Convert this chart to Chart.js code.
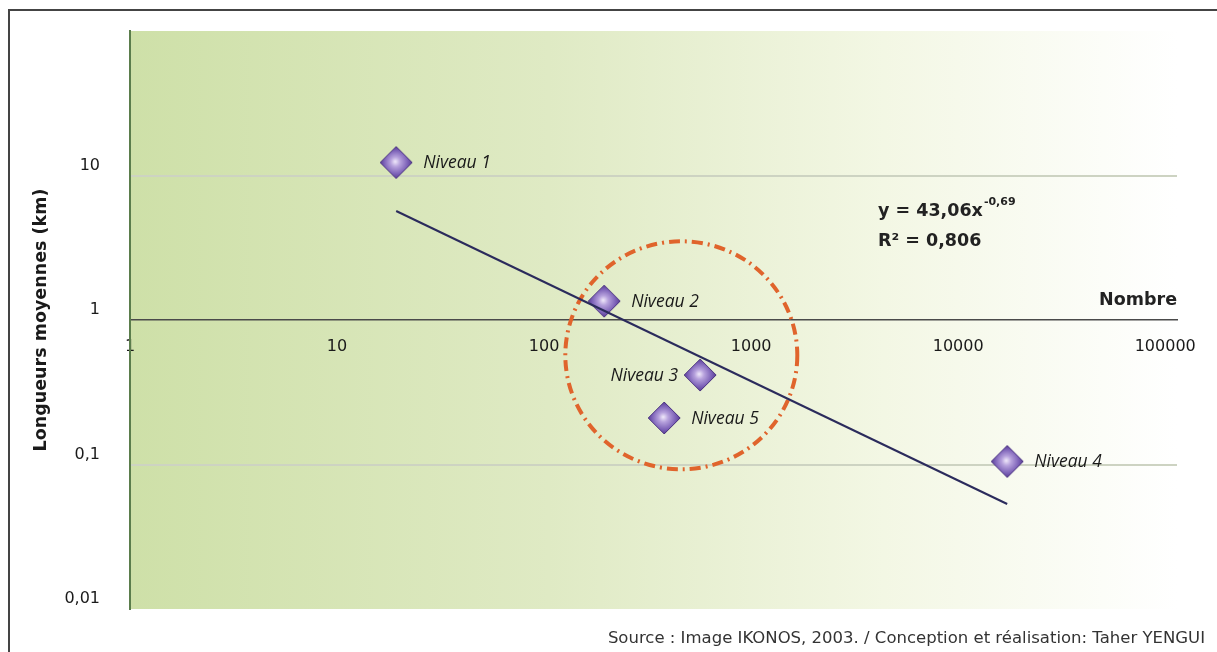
<!DOCTYPE html>
<html>
<head>
<meta charset="utf-8">
<script src="https://cdn.jsdelivr.net/npm/chart.js@4.4.0/dist/chart.umd.min.js"></script>
<style>
  html, body { margin: 0; padding: 0; background: #fff; }
  #wrap { width: 1217px; height: 652px; }
</style>
</head>
<body>
<div id="wrap"><canvas id="myChart"></canvas></div>
<script>
// niveaux : nombre de segments / longueur moyenne (km)
const niveaux = ['Niveau 1', 'Niveau 2', 'Niveau 3', 'Niveau 4', 'Niveau 5'];
const nombre = [19.3, 195, 567, 17250, 380];
const longueurs = [12.3, 1.35, 0.416, 0.105, 0.21];

// droite d'ajustement (lue aux deux bouts)
const trendX = [19.3, 17250];
const trendY = [5.68, 0.0533];

const xTicks = [1, 10, 100, 1000, 10000, 100000];
const yTicks = [0.01, 0.1, 1, 10, 100];
const yTickLabels = ['0,01', '0,1', '1', '10', ''];

const equation = ['y = 43,06x', '-0,69', 'R² = 0,806'];
const eqAt = [4100, 5.6];          // ancrage de l'équation
const circleCenter = [460, 0.57];  // cercle en tirets

const SANS = "'DejaVu Sans', Verdana, sans-serif";
const ITAL = "'Open Sans', sans-serif";
Chart.defaults.font.family = SANS;

function makeDiamond(r) {
  const c = document.createElement('canvas');
  const s = 2 * r + 4;
  c.width = s; c.height = s;
  const g = c.getContext('2d');
  const m = s / 2;
  const grad = g.createRadialGradient(m - 1, m - 1, 0, m, m, r);
  grad.addColorStop(0, '#f1eafb');
  grad.addColorStop(0.3, '#b7a2dd');
  grad.addColorStop(0.75, '#7a5fb6');
  grad.addColorStop(1, '#5a3f93');
  g.fillStyle = grad;
  g.beginPath();
  g.moveTo(m - r, m); g.lineTo(m, m - r); g.lineTo(m + r, m); g.lineTo(m, m + r);
  g.closePath();
  g.fill();
  g.strokeStyle = '#4b3380';
  g.lineWidth = 1;
  g.stroke();
  return c;
}

const decor = {
  id: 'decor',
  beforeDraw(chart) {
    const {ctx, chartArea: a} = chart;
    ctx.save();
    const g = ctx.createLinearGradient(a.left, 0, a.right, 0);
    g.addColorStop(0, '#cee0a8');
    g.addColorStop(0.4, '#dfeac4');
    g.addColorStop(0.72, '#f3f7e4');
    g.addColorStop(1, '#ffffff');
    ctx.fillStyle = g;
    ctx.fillRect(a.left, a.top, a.right - a.left, a.bottom - a.top);
    // cadre
    ctx.strokeStyle = '#444';
    ctx.lineWidth = 2;
    ctx.beginPath();
    ctx.moveTo(9, 652); ctx.lineTo(9, 10); ctx.lineTo(1217, 10);
    ctx.stroke();
    ctx.restore();
  },
  beforeDatasetsDraw(chart) {
    const {ctx, scales} = chart;
    const cx = scales.x.getPixelForValue(circleCenter[0]);
    const cy = scales.y.getPixelForValue(circleCenter[1]);
    ctx.save();
    ctx.strokeStyle = '#e0642c';
    ctx.lineWidth = 4;
    ctx.setLineDash([11, 5, 2, 5]);
    ctx.beginPath();
    ctx.ellipse(cx, cy, 116, 114, 0, 0, Math.PI * 2);
    ctx.stroke();
    ctx.restore();
  },
  afterDatasetsDraw(chart) {
    const {ctx, scales, chartArea: a} = chart;
    ctx.save();
    // étiquettes des points
    const pts = chart.getDatasetMeta(1).data;
    ctx.font = 'italic 17.5px ' + ITAL;
    ctx.fillStyle = '#1a1a1a';
    ctx.textBaseline = 'middle';
    pts.forEach((p, i) => {
      if (i === 2) {
        ctx.textAlign = 'right';
        ctx.fillText(niveaux[i], p.x - 22, p.y + 1);
      } else {
        ctx.textAlign = 'left';
        ctx.fillText(niveaux[i], p.x + 27, p.y + 1);
      }
    });
    // équation
    const ex = scales.x.getPixelForValue(eqAt[0]);
    const ey = scales.y.getPixelForValue(eqAt[1]);
    ctx.textAlign = 'left';
    ctx.textBaseline = 'alphabetic';
    ctx.fillStyle = '#222';
    ctx.font = 'bold 17.5px ' + SANS;
    ctx.fillText(equation[0], ex, ey + 4);
    const w = ctx.measureText(equation[0]).width;
    ctx.font = 'bold 11px ' + SANS;
    ctx.fillText(equation[1], ex + w + 1, ey - 7);
    ctx.font = 'bold 17.5px ' + SANS;
    ctx.fillText(equation[2], ex, ey + 34);
    // titre de l'axe des x
    ctx.textAlign = 'right';
    ctx.fillText('Nombre', a.right, scales.y.getPixelForValue(1) - 15);
    // source
    ctx.font = '16.5px ' + SANS;
    ctx.fillStyle = '#333';
    ctx.fillText('Source : Image IKONOS, 2003. / Conception et réalisation: Taher YENGUI', 1205, 643);
    ctx.restore();
  }
};

const ctx = document.querySelector('#myChart');

new Chart(ctx, {
  type: 'scatter',
  data: {
    datasets: [
      {
        label: 'tendance',
        data: trendX.map((x, i) => ({x: x, y: trendY[i]})),
        showLine: true,
        borderColor: '#2b2b5c',
        borderWidth: 2,
        pointRadius: 0
      },
      {
        label: 'niveaux',
        data: nombre.map((x, i) => ({x: x, y: longueurs[i]})),
        pointStyle: makeDiamond(16),
        pointRadius: 16
      }
    ]
  },
  options: {
    responsive: true,
    maintainAspectRatio: false,
    animation: false,
    layout: { padding: { top: 31, right: 40, bottom: 43, left: 10 } },
    plugins: {
      legend: { display: false },
      tooltip: { enabled: false }
    },
    scales: {
      x: {
        type: 'logarithmic',
        position: { y: 1 },
        z: 1,
        min: 1,
        max: 114000,
        afterBuildTicks: (s) => { s.ticks = xTicks.map(v => ({value: v})); },
        ticks: {
          autoSkip: false,
          maxRotation: 0,
          padding: 17,
          color: '#1a1a1a',
          font: { size: 16 },
          callback: (v) => String(v)
        },
        grid: { display: true, drawOnChartArea: false, drawTicks: false },
        border: { display: true, color: '#4a4a4a', width: 1.5 }
      },
      y: {
        type: 'logarithmic',
        min: 0.01,
        max: 100,
        afterBuildTicks: (s) => { s.ticks = yTicks.map(v => ({value: v})); },
        afterFit: (s) => { s.width = 120; },
        ticks: {
          autoSkip: false,
          padding: 8,
          labelOffset: -10,
          color: '#1a1a1a',
          font: { size: 16 },
          callback: (v) => yTickLabels[yTicks.indexOf(v)]
        },
        grid: {
          drawTicks: true,
          tickLength: 22,
          tickColor: 'rgba(0,0,0,0)',
          lineWidth: 2,
          color: (c) => (c.tick && (c.tick.value === 10 || c.tick.value === 0.1)) ? '#cdd3c2' : 'rgba(0,0,0,0)'
        },
        border: { display: true, color: '#5b7d4c', width: 2 },
        title: {
          display: true,
          text: 'Longueurs moyennes (km)',
          color: '#1a1a1a',
          font: { size: 17.5, weight: 'bold' },
          padding: { top: 21, bottom: 0 }
        }
      }
    }
  },
  plugins: [decor]
});
</script>
</body>
</html>
